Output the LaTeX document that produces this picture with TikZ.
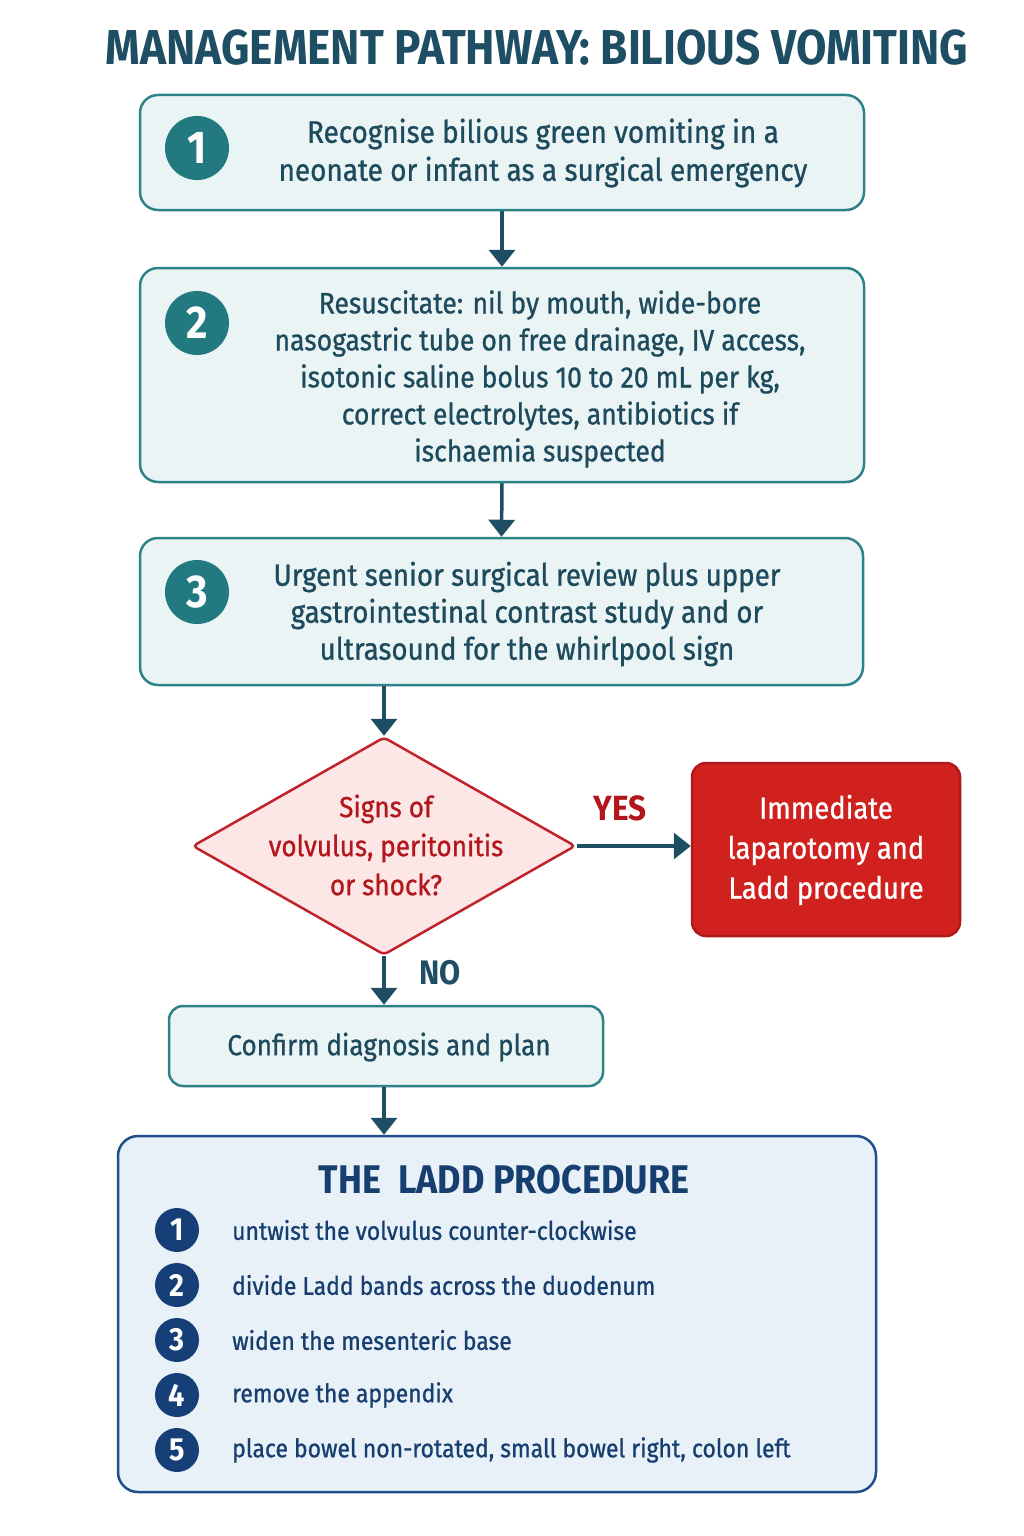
\documentclass[tikz,border=0pt]{standalone}
\usepackage{fontspec}
\setmainfont{Fira Sans}[FakeStretch=0.9, UprightFeatures={FakeBold=0.9}]
\usetikzlibrary{shapes.geometric,arrows.meta}
\definecolor{titlec}{HTML}{1D4E63}
\definecolor{tealline}{HTML}{2E8389}
\definecolor{tealfill}{HTML}{EAF4F4}
\definecolor{tealcirc}{HTML}{227A80}
\definecolor{txtc}{HTML}{1E4A5E}
\definecolor{arrowc}{HTML}{1D4E63}
\definecolor{redline}{HTML}{C0242A}
\definecolor{redfill}{HTML}{FCE6E6}
\definecolor{redtxt}{HTML}{B3171C}
\definecolor{redbox}{HTML}{D0211F}
\definecolor{redboxline}{HTML}{B0191A}
\definecolor{navyline}{HTML}{1F4F8A}
\definecolor{laddfill}{HTML}{E8F0F8}
\definecolor{laddtxt}{HTML}{163E6E}
\definecolor{laddcirc}{HTML}{173F77}
\begin{document}
\begin{tikzpicture}[x=1pt,y=-1pt,
  stepbox/.style={draw=tealline, fill=tealfill, line width=2.5pt, rounded corners=18pt, inner sep=0pt},
  num/.style={circle, fill=tealcirc, text=white, minimum size=64pt, inner sep=0pt, font=\bfseries\fontsize{46}{46}\selectfont},
  body/.style={text=txtc, align=center, font=\fontsize{29.5}{37}\selectfont, inner sep=0pt},
  arr/.style={draw=arrowc, line width=3.5pt, -{Triangle[width=26pt,length=17pt]}},
  lnum/.style={circle, fill=laddcirc, text=white, minimum size=44pt, inner sep=0pt, font=\bfseries\fontsize{32}{32}\selectfont},
  litem/.style={text=laddtxt, anchor=west, inner sep=0pt, font=\fontsize{25.5}{30}\selectfont}
]
\useasboundingbox (0,0) rectangle (1024,1536);
\fill[white] (0,0) rectangle (1024,1536);

\node[font=\bfseries\fontsize{49}{52}\selectfont, text=titlec, inner sep=0pt] (title) at (537,48) {MANAGEMENT PATHWAY: BILIOUS VOMITING};

% step 1
\node[stepbox, minimum width=724pt, minimum height=115pt] (b1) at (502,152.5) {};
\node[num] (n1) at (197,148) {1};
\node[body, font=\fontsize{31}{38}\selectfont] (t1) at (543,153) {Recognise bilious green vomiting in a\\neonate or infant as a surgical emergency};

% step 2
\node[stepbox, minimum width=724pt, minimum height=214pt] (b2) at (502,375) {};
\node[num] (n2) at (197,323) {2};
\node[body] (t2) at (540,379) {Resuscitate: nil by mouth, wide-bore\\nasogastric tube on free drainage, IV access,\\isotonic saline bolus 10 to 20 mL per kg,\\correct electrolytes, antibiotics if\\ischaemia suspected};

% step 3
\node[stepbox, minimum width=723pt, minimum height=147pt] (b3) at (501.5,611.5) {};
\node[num] (n3) at (197,592) {3};
\node[body, font=\fontsize{30.8}{37}\selectfont] (t3) at (527,614) {Urgent senior surgical review plus upper\\gastrointestinal contrast study and or\\ultrasound for the whirlpool sign};

% decision
\node[diamond, draw=redline, fill=redfill, line width=2.5pt, rounded corners=4pt, minimum width=383pt, minimum height=218pt, inner sep=0pt] (dia) at (384,846) {};
\node[body, text=redtxt, font=\fontsize{29}{39}\selectfont] (dt) at (386,845) {Signs of\\volvulus, peritonitis\\or shock?};

\node[draw=redboxline, fill=redbox, line width=2.5pt, rounded corners=14pt, minimum width=268pt, minimum height=173pt, inner sep=0pt] (red) at (826,849.5) {};
\node[body, text=white, font=\fontsize{30.5}{40}\selectfont] (rt) at (826,850) {Immediate\\laparotomy and\\Ladd procedure};

\node[text=redtxt, font=\bfseries\fontsize{35}{35}\selectfont, inner sep=0pt] (yes) at (620,808) {YES};
\node[text=titlec, font=\bfseries\fontsize{34}{34}\selectfont, inner sep=0pt] (no) at (440,973) {NO};

% confirm
\node[stepbox, rounded corners=14pt, minimum width=434pt, minimum height=80pt] (conf) at (386,1046) {};
\node[body, font=\fontsize{29}{37}\selectfont] (ct) at (389,1047) {Confirm diagnosis and plan};

% Ladd
\node[draw=navyline, fill=laddfill, line width=2.5pt, rounded corners=20pt, minimum width=758pt, minimum height=356pt, inner sep=0pt] (ladd) at (497,1314) {};
\node[text=laddtxt, font=\bfseries\fontsize{40}{40}\selectfont, inner sep=0pt] (lt) at (504,1180) {THE\ \ LADD PROCEDURE};
\node[lnum] (l1) at (177,1230) {1};
\node[lnum] (l2) at (177,1285) {2};
\node[lnum] (l3) at (177,1340) {3};
\node[lnum] (l4) at (177,1395) {4};
\node[lnum] (l5) at (177,1450) {5};
\node[litem] (i1) at (232,1230) {untwist the volvulus counter-clockwise};
\node[litem] (i2) at (232,1285) {divide Ladd bands across the duodenum};
\node[litem] (i3) at (232,1340) {widen the mesenteric base};
\node[litem] (i4) at (232,1395) {remove the appendix};
\node[litem] (i5) at (232,1450) {place bowel non-rotated, small bowel right, colon left};

% connectors
\draw[arr] (b1.south) -- (b2.north);
\draw[arr] (b2.south) -- (b3.north);
\draw[arr] (b3.south -| dia.north) -- (dia.north);
\draw[arr] (dia.east) -- (dia.east -| red.west);
\draw[arr] (dia.south) -- (dia.south |- conf.north);
\draw[arr] (conf.south -| dia.south) -- (dia.south |- ladd.north);
\end{tikzpicture}
\end{document}
